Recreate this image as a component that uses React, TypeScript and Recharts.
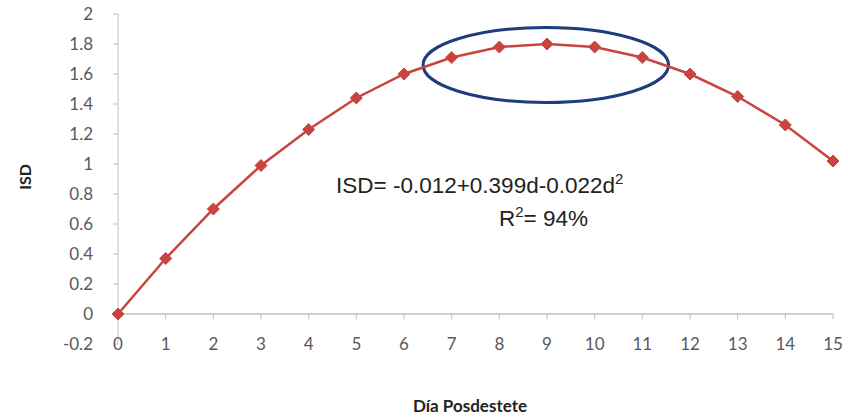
import React from "react";
import {
  LineChart,
  Line,
  XAxis,
  YAxis,
  ReferenceLine,
  ReferenceArea,
} from "recharts";

const days = [0, 1, 2, 3, 4, 5, 6, 7, 8, 9, 10, 11, 12, 13, 14, 15];
const isd = [0, 0.37, 0.7, 0.99, 1.23, 1.44, 1.6, 1.71, 1.78, 1.8, 1.78, 1.71, 1.6, 1.45, 1.26, 1.02];
const yTicks = [-0.2, 0, 0.2, 0.4, 0.6, 0.8, 1, 1.2, 1.4, 1.6, 1.8, 2];

const data = days.map((d, i) => ({ day: d, isd: isd[i] }));

const RED = "#c9443f";
const GRID = "#bfbfbf";
const TICK = "#595959";

const Diamond = (props: any) => {
  const { cx, cy } = props;
  if (cx == null || cy == null) return null;
  const r = 6;
  return (
    <polygon
      points={`${cx},${cy - r} ${cx + r},${cy} ${cx},${cy + r} ${cx - r},${cy}`}
      fill={RED}
      stroke={RED}
    />
  );
};

const Ellipse = (props: any) => {
  const { x, y, width, height } = props;
  return (
    <ellipse
      cx={x + width / 2}
      cy={y + height / 2}
      rx={width / 2}
      ry={height / 2}
      fill="none"
      stroke="#1f3d7a"
      strokeWidth={3}
    />
  );
};

export default function App() {
  return (
    <div
      style={{
        position: "absolute",
        left: 0,
        top: 0,
        width: 848,
        height: 417,
        background: "#fff",
        fontFamily: "Lato, sans-serif",
      }}
    >
      <LineChart
        width={848}
        height={417}
        data={data}
        margin={{ top: 14, right: 15, bottom: 0, left: 0 }}
      >
        <XAxis
          dataKey="day"
          type="number"
          domain={[0, 15]}
          ticks={days}
          axisLine={false}
          tickLine={false}
          tickSize={0}
          tickMargin={0}
          height={73}
          tick={{ fill: TICK, fontSize: 17, dy: -6 }}
        />
        <YAxis
          type="number"
          domain={[-0.2, 2]}
          ticks={yTicks}
          width={118}
          stroke={GRID}
          tickSize={5}
          tickMargin={20}
          tick={{ fill: TICK, fontSize: 17 }}
        />
        <ReferenceLine y={0} stroke={GRID} strokeWidth={1.5} />
        {days.map((d) => (
          <ReferenceLine
            key={d}
            segment={[
              { x: d, y: 0 },
              { x: d, y: -0.035 },
            ]}
            stroke={GRID}
          />
        ))}
        <Line
          dataKey="isd"
          stroke={RED}
          strokeWidth={2.5}
          dot={<Diamond />}
          activeDot={false}
          isAnimationActive={false}
        />
        <ReferenceArea
          x1={6.4}
          x2={11.55}
          y1={1.41}
          y2={1.91}
          shape={<Ellipse />}
        />
      </LineChart>
      <svg
        width={848}
        height={417}
        style={{ position: "absolute", left: 0, top: 0, pointerEvents: "none" }}
      >
        <text
          x={336}
          y={193}
          fontFamily="'Liberation Sans', Arial, sans-serif"
          fontSize={22.5}
          fill="#222"
        >
          ISD= -0.012+0.399d-0.022d
          <tspan fontSize={15} dy={-9}>2</tspan>
        </text>
        <text
          x={499}
          y={226}
          fontFamily="'Liberation Sans', Arial, sans-serif"
          fontSize={22.5}
          fill="#222"
        >
          R<tspan fontSize={15} dy={-9}>2</tspan>
          <tspan dy={9}>= 94%</tspan>
        </text>
        <text
          x={24}
          y={177}
          transform="rotate(-90 24 177)"
          textAnchor="middle"
          dominantBaseline="central"
          fontFamily="Lato, sans-serif"
          fontWeight="bold"
          fontSize={16}
          fill="#222"
        >
          ISD
        </text>
        <text
          x={470}
          y={405}
          textAnchor="middle"
          dominantBaseline="central"
          fontFamily="Lato, sans-serif"
          fontWeight="bold"
          fontSize={17}
          fill="#222"
        >
          Día Posdestete
        </text>
      </svg>
    </div>
  );
}
